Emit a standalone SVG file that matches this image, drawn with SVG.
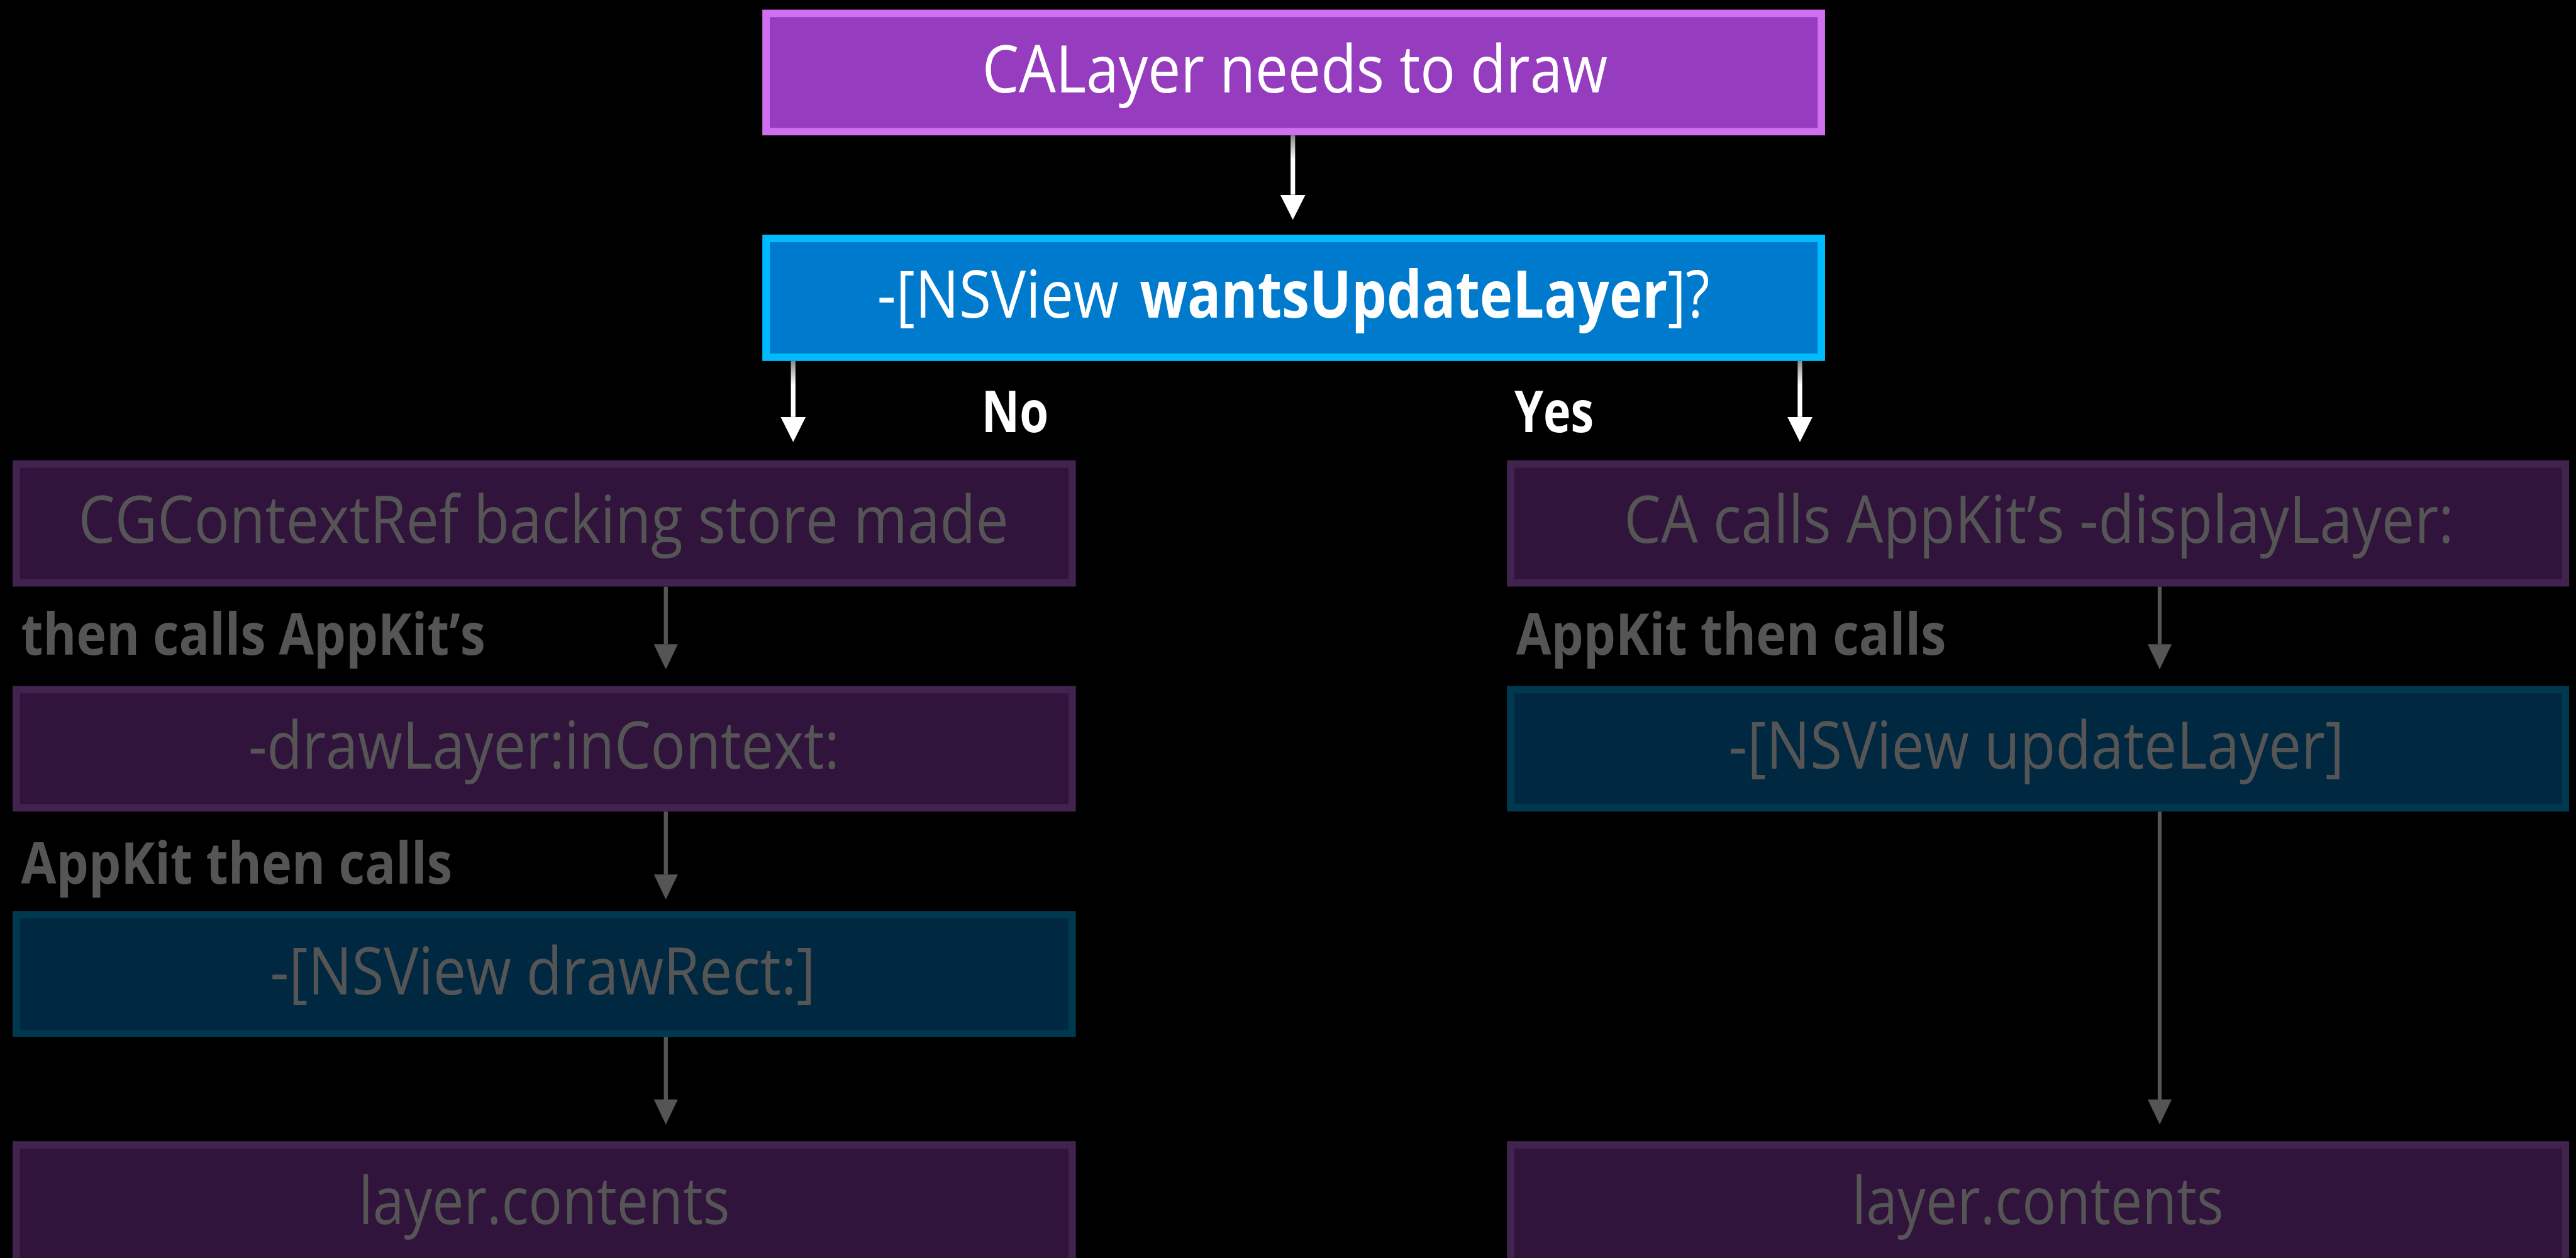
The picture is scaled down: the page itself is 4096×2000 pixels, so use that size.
<svg xmlns="http://www.w3.org/2000/svg" width="4096" height="2000" viewBox="0 0 4096 2000">
<defs>
<style>
.t{font-family:"Open Sans","Liberation Sans",sans-serif;font-size:114px}
.w{fill:#ffffff}
.g{fill:#555555}
.b{font-weight:700}
.n{font-weight:400}
.lb{font-family:"Open Sans","Liberation Sans",sans-serif;font-size:100px;font-weight:700}
.box{stroke-width:13}
.title{fill:#963cbe;stroke:#d070f0}
.ask{fill:#007acc;stroke:#00bbff}
.dp{fill:#30143c;stroke:#42224e}
.db{fill:#002840;stroke:#003850}
.cw{stroke-width:8;fill:none}
.cg{stroke:#555555;stroke-width:7;fill:none;marker-end:url(#ag)}
</style>
<marker id="aw" viewBox="0 0 44 44" markerWidth="44" markerHeight="44" markerUnits="userSpaceOnUse" refX="0" refY="22" orient="auto">
<path d="M0,0 L44,22 L0,44 z" fill="#ffffff"/>
</marker>
<marker id="ag" viewBox="0 0 44 42" markerWidth="44" markerHeight="42" markerUnits="userSpaceOnUse" refX="0" refY="21" orient="auto">
<path d="M0,0 L44,21 L0,42 z" fill="#555555"/>
</marker>
<linearGradient id="gw1" gradientUnits="userSpaceOnUse" x1="0" y1="237" x2="0" y2="280">
<stop offset="0" stop-color="#8a8a8a"/><stop offset="1" stop-color="#ffffff"/>
</linearGradient>
<linearGradient id="gw2" gradientUnits="userSpaceOnUse" x1="0" y1="632" x2="0" y2="675">
<stop offset="0" stop-color="#8a8a8a"/><stop offset="1" stop-color="#ffffff"/>
</linearGradient>
</defs>
<rect x="0" y="0" width="4096" height="2000" fill="#000000"/>
<g transform="scale(0.908)">
<g id="connectors">
<path class="cw" stroke="url(#gw1)" d="M2264,237 V341" marker-end="url(#aw)"/>
<path class="cw" stroke="url(#gw2)" d="M1389,632 V730" marker-end="url(#aw)"/>
<path class="cw" stroke="url(#gw2)" d="M3152,632 V730" marker-end="url(#aw)"/>
<path class="cg" d="M1166,1027 V1128"/>
<path class="cg" d="M1166,1421 V1531"/>
<path class="cg" d="M1166,1816 V1925"/>
<path class="cg" d="M3782,1027 V1128"/>
<path class="cg" d="M3782,1421 V1925"/>
</g>
<g id="labels">
<text class="lb w" x="1719" y="757" textLength="117" lengthAdjust="spacingAndGlyphs">No</text>
<text class="lb w" x="2652" y="757" textLength="139" lengthAdjust="spacingAndGlyphs">Yes</text>
<text class="lb g" x="37" y="1147" textLength="813" lengthAdjust="spacingAndGlyphs">then calls AppKit’s</text>
<text class="lb g" x="37" y="1547" textLength="755" lengthAdjust="spacingAndGlyphs">AppKit then calls</text>
<text class="lb g" x="2655" y="1146" textLength="753" lengthAdjust="spacingAndGlyphs">AppKit then calls</text>
</g>
<g id="n-calayer">
<rect class="box title" x="1341.5" y="23.5" width="1848" height="207"/>
<text class="t w" x="1720" y="162" textLength="1095" lengthAdjust="spacingAndGlyphs">CALayer needs to draw</text>
</g>
<g id="n-wants">
<rect class="box ask" x="1341.5" y="417.5" width="1848" height="208"/>
<text class="t w" x="1536" y="556" textLength="423" lengthAdjust="spacingAndGlyphs">-[NSView</text>
<text class="t w b" x="1996" y="556" textLength="998" lengthAdjust="spacingAndGlyphs">wantsUpdateLayer<tspan class="n">]?</tspan></text>
</g>
<g id="n-cgcontext">
<rect class="box dp" x="28.5" y="812.5" width="1849" height="208"/>
<text class="t g" x="137" y="950" textLength="1629" lengthAdjust="spacingAndGlyphs">CGContextRef backing store made</text>
</g>
<g id="n-drawlayer">
<rect class="box dp" x="28.5" y="1207.5" width="1849" height="207"/>
<text class="t g" x="435" y="1346" textLength="1035" lengthAdjust="spacingAndGlyphs">-drawLayer:inContext:</text>
</g>
<g id="n-drawrect">
<rect class="box db" x="28.5" y="1601.5" width="1849" height="208"/>
<text class="t g" x="473" y="1741" textLength="955" lengthAdjust="spacingAndGlyphs">-[NSView drawRect:]</text>
</g>
<g id="n-contents-left">
<rect class="box dp" x="28.5" y="2004.5" width="1849" height="208"/>
<text class="t g" x="628" y="2143" textLength="650" lengthAdjust="spacingAndGlyphs">layer.contents</text>
</g>
<g id="n-displaylayer">
<rect class="box dp" x="2645.5" y="812.5" width="1847" height="208"/>
<text class="t g" x="2844" y="950" textLength="1453" lengthAdjust="spacingAndGlyphs">CA calls AppKit’s -displayLayer:</text>
</g>
<g id="n-updatelayer">
<rect class="box db" x="2645.5" y="1207.5" width="1847" height="207"/>
<text class="t g" x="3027" y="1346" textLength="1078" lengthAdjust="spacingAndGlyphs">-[NSView updateLayer]</text>
</g>
<g id="n-contents-right">
<rect class="box dp" x="2645.5" y="2004.5" width="1847" height="208"/>
<text class="t g" x="3243" y="2143" textLength="651" lengthAdjust="spacingAndGlyphs">layer.contents</text>
</g>
</g>
</svg>
